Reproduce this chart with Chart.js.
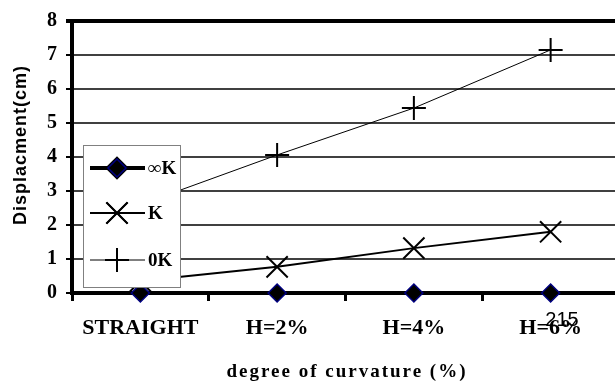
<!DOCTYPE html>
<html>
<head>
<meta charset="utf-8">
<script src="https://cdn.jsdelivr.net/npm/chart.js@4"></script>
<style>
    html, body { margin: 0; padding: 0; background: #fff; overflow: hidden; }
    #wrap { width: 636px; height: 381px; }
</style>
</head>
<body>
<div id="wrap"><canvas id="curveChart" width="636" height="381"></canvas></div>
<script>
const categories = ["STRAIGHT", "H=2%", "H=4%", "H=6%"];
const seriesInfK = [0, 0, 0, 0];
const seriesK = [0.35, 0.77, 1.32, 1.8];
const series0K = [2.6, 4.06, 5.44, 7.15];
const yTicks = [0, 1, 2, 3, 4, 5, 6, 7, 8];

const SERIF = "'Liberation Serif', 'Times New Roman', serif";
const SANS = "'Liberation Sans', Arial, sans-serif";

// axis titles are spaced out like the original, Chart.js can't do letter spacing
const spacedTitles = {
    id: "spacedTitles",
    afterDraw(chart) {
        const ctx = chart.ctx;
        ctx.save();
        ctx.fillStyle = "#000";
        ctx.textAlign = "center";
        ctx.textBaseline = "alphabetic";

        ctx.letterSpacing = "2px";
        ctx.font = "bold 19px " + SERIF;
        ctx.fillText("degree of curvature (%)", 347, 377);

        ctx.translate(26, 145);
        ctx.rotate(-Math.PI / 2);
        ctx.letterSpacing = "1px";
        ctx.font = "bold 18px " + SANS;
        ctx.fillText("Displacment(cm)", 0, 0);
        ctx.restore();
    },
};

// legend box drawn inside the plot, on top of the lines
const insideLegend = {
    id: "insideLegend",
    afterDatasetsDraw(chart) {
        const ctx = chart.ctx;
        const box = { x: 83.5, y: 145.5, w: 97, h: 142 };
        ctx.save();
        ctx.fillStyle = "#fff";
        ctx.strokeStyle = "#808080";
        ctx.lineWidth = 1;
        ctx.fillRect(box.x, box.y, box.w, box.h);
        ctx.strokeRect(box.x, box.y, box.w, box.h);

        const rowsY = [168, 213, 260];
        chart.data.datasets.forEach((ds, i) => {
            const y = rowsY[i];
            ctx.beginPath();
            ctx.strokeStyle = ds.borderColor;
            ctx.lineWidth = ds.borderWidth;
            ctx.moveTo(90, y);
            ctx.lineTo(145, y);
            ctx.stroke();
            Chart.helpers.drawPoint(ctx, {
                pointStyle: ds.pointStyle,
                radius: ds.pointRadius,
                borderWidth: ds.pointBorderWidth,
                rotation: 0,
            }, 117, y);
            ctx.fillStyle = ds.pointBackgroundColor;
            ctx.strokeStyle = ds.pointBorderColor;
            ctx.lineWidth = ds.pointBorderWidth;
            if (ds.pointStyle === "rectRot") ctx.fill();
            ctx.stroke();

            ctx.fillStyle = "#000";
            ctx.font = "bold 19px " + SERIF;
            ctx.textBaseline = "middle";
            ctx.fillText(ds.label, 148, y + 1);
        });

        // stray page number from the source figure
        ctx.font = "20px " + SANS;
        ctx.fillStyle = "#000";
        ctx.textAlign = "center";
        ctx.fillText("215", 562, 320);
        ctx.restore();
    },
};

new Chart(document.getElementById("curveChart"), {
    type: "line",
    data: {
        labels: categories,
        datasets: [
            {
                label: "\u221EK",
                data: seriesInfK,
                borderColor: "#000",
                borderWidth: 4,
                pointStyle: "rectRot",
                pointRadius: 9,
                pointBackgroundColor: "#000",
                pointBorderColor: "#000080",
                pointBorderWidth: 1.5,
                clip: false,
            },
            {
                label: "K",
                data: seriesK,
                borderColor: "#000",
                borderWidth: 2,
                pointStyle: "crossRot",
                pointRadius: 15,
                pointBackgroundColor: "#000",
                pointBorderColor: "#000",
                pointBorderWidth: 2,
                clip: false,
            },
            {
                label: "0K",
                data: series0K,
                borderColor: "#000",
                borderWidth: 1,
                pointStyle: "cross",
                pointRadius: 12,
                pointBackgroundColor: "#000",
                pointBorderColor: "#000",
                pointBorderWidth: 2,
                clip: false,
            },
        ],
    },
    options: {
        responsive: false,
        animation: false,
        layout: { padding: { top: 21, right: 0, left: 0, bottom: 0 } },
        plugins: {
            legend: { display: false },
            tooltip: { enabled: false },
        },
        scales: {
            x: {
                offset: true,
                afterFit: (scale) => {
                    scale.height = 88;
                    scale.paddingLeft = 0;
                    scale.paddingRight = 0;
                },
                border: { color: "#000", width: 4 },
                grid: {
                    offset: true,
                    drawOnChartArea: false,
                    drawTicks: true,
                    tickLength: 8,
                    color: "#000",
                    lineWidth: 3,
                },
                ticks: {
                    color: "#000",
                    padding: 14,
                    maxRotation: 0,
                    autoSkip: false,
                    font: { family: SERIF, size: 22, weight: "bold" },
                },
            },
            y: {
                min: 0,
                max: 8,
                afterFit: (scale) => { scale.width = 72; },
                afterBuildTicks: (scale) => {
                    scale.ticks = yTicks.map(v => ({ value: v }));
                },
                border: { color: "#000", width: 4 },
                grid: {
                    tickLength: 6,
                    color: (c) => (c.tick && c.tick.value === 8 ? "#000" : "#404040"),
                    lineWidth: (c) => (c.tick && c.tick.value === 8 ? 4 : 2),
                    tickColor: "#000",
                },
                ticks: {
                    color: "#000",
                    padding: 9,
                    font: { family: SERIF, size: 20, weight: "bold" },
                },
            },
        },
    },
    plugins: [insideLegend, spacedTitles],
});
</script>
</body>
</html>
